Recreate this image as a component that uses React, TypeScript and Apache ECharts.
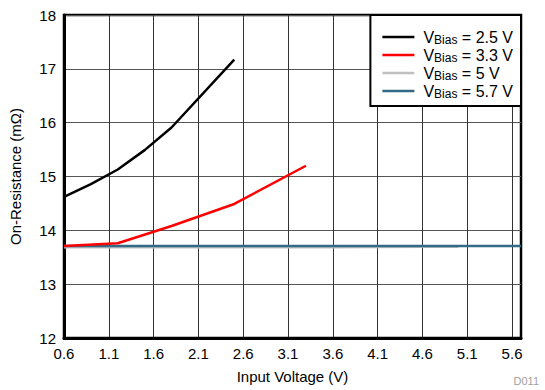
import React, { useEffect, useRef } from "react";
import * as echarts from "echarts";

// Input voltage (V) and on-resistance (mΩ) for each bias voltage
const vin25 = [0.6, 0.9, 1.2, 1.5, 1.8, 2.5];
const ron25 = [14.62, 14.86, 15.13, 15.49, 15.91, 17.17];

const vin33 = [0.6, 1.2, 1.8, 2.5, 3.3];
const ron33 = [13.71, 13.76, 14.08, 14.49, 15.2];

const vin50 = [0.6, 1.6, 2.6, 3.6, 4.6, 5.0];
const ron50 = [13.69, 13.69, 13.69, 13.69, 13.7, 13.7];

const vin57 = [0.6, 1.6, 2.6, 3.6, 4.6, 5.7];
const ron57 = [13.71, 13.71, 13.71, 13.71, 13.71, 13.71];

const biasLabels = ["2.5", "3.3", "5", "5.7"];
const xTicks = [0.6, 1.1, 1.6, 2.1, 2.6, 3.1, 3.6, 4.1, 4.6, 5.1, 5.6];

const FONT = "Liberation Sans, Arial, sans-serif";

const pairs = (xs: number[], ys: number[]) => xs.map((x, i) => [x, ys[i]]);

export default function App() {
  const ref = useRef<HTMLDivElement>(null);

  useEffect(() => {
    document.body.style.margin = "0";
    if (!ref.current) return;
    const chart = echarts.init(ref.current, undefined, { renderer: "svg" });
    const colors = ["#000000", "#ff0000", "#c0c0c0", "#336b87"];
    const datasets = [
      pairs(vin25, ron25),
      pairs(vin33, ron33),
      pairs(vin50, ron50),
      pairs(vin57, ron57),
    ];
    // draw order: gray under the blue line
    const order = [2, 3, 1, 0];
    chart.setOption({
      animation: false,
      textStyle: { fontFamily: FONT },
      grid: {
        left: 64,
        right: 24,
        top: 15,
        bottom: 52,
        show: true,
        borderColor: "#000",
        borderWidth: 2.5,
        backgroundColor: "#fff",
      },
      legend: {
        data: biasLabels,
        right: 24,
        top: 15,
        orient: "vertical",
        align: "left",
        backgroundColor: "#fff",
        borderColor: "#000",
        borderWidth: 2,
        padding: [13, 8, 6, 12],
        itemGap: 0,
        itemWidth: 32,
        itemHeight: 2.5,
        icon: "rect",
        formatter: (name: string) => `{g|}{a|V}{b|Bias}{a| = ${name} V}`,
        textStyle: {
          fontFamily: FONT,
          color: "#000",
          fontSize: 16,
          lineHeight: 12,
          rich: {
            g: { width: 4, lineHeight: 12 },
            a: { fontSize: 16, fontFamily: FONT, color: "#000", lineHeight: 12 },
            b: {
              fontSize: 12,
              fontFamily: FONT,
              color: "#000",
              lineHeight: 6,
              padding: [6, 0, 0, 0],
            },
          },
        },
      },
      xAxis: {
        type: "value",
        min: 0.6,
        max: 5.7,
        name: "Input Voltage (V)",
        nameLocation: "middle",
        nameGap: 31,
        nameTextStyle: { fontSize: 15, color: "#000", fontFamily: FONT },
        axisLine: { show: true, lineStyle: { color: "#000", width: 3 } },
        axisTick: { show: false, customValues: xTicks },
        axisLabel: {
          customValues: xTicks,
          fontSize: 15,
          color: "#000",
          margin: 8,
          fontFamily: FONT,
          formatter: (v: number) => v.toFixed(1),
        },
        splitLine: { show: true, lineStyle: { color: "#333", width: 1 } },
      },
      yAxis: {
        type: "value",
        min: 12,
        max: 18,
        interval: 1,
        name: "On-Resistance (mΩ)",
        nameLocation: "middle",
        nameGap: 41,
        nameTextStyle: { fontSize: 15, color: "#000", fontFamily: FONT },
        axisLine: { show: true, lineStyle: { color: "#000", width: 3 } },
        axisTick: { show: false },
        axisLabel: { fontSize: 15, color: "#000", margin: 8, fontFamily: FONT },
        splitLine: { show: true, lineStyle: { color: "#555", width: 1.2 } },
      },
      series: order.map((i) => ({
        name: biasLabels[i],
        type: "line",
        data: datasets[i],
        symbol: "none",
        smooth: false,
        z: 3 + order.indexOf(i),
        lineStyle: { color: colors[i], width: i === 2 ? 3 : 2.5 },
        itemStyle: { color: colors[i] },
      })),
      graphic: [
        {
          type: "text",
          right: 6,
          bottom: 4,
          style: { text: "D011", fontSize: 11, fill: "#a0a0a0", fontFamily: FONT },
        },
      ],
    });
    return () => chart.dispose();
  }, []);

  return <div ref={ref} style={{ width: 545, height: 390 }} />;
}
